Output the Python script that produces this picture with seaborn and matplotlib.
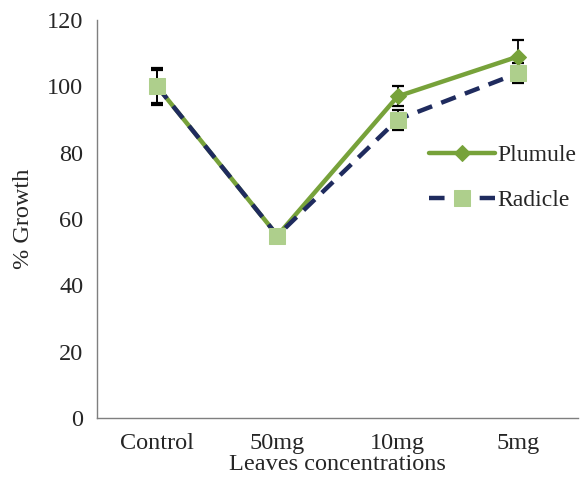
import matplotlib
matplotlib.use("Agg")
import matplotlib.pyplot as plt
import seaborn as sns
import pandas as pd
import numpy as np

categories = ["Control", "50mg", "10mg", "5mg"]
plumule = [100, 55, 97, 109]
plumule_err = [5.5, 1, 3, 5]
radicle = [100, 55, 90, 104]
radicle_err = [5, 1, 3, 3]

sns.set_style("white")
plt.rcParams['font.family'] = ['Liberation Serif', 'DejaVu Serif']

FS = 17.5
fig = plt.figure(figsize=(5.81, 4.91), dpi=100)
ax = fig.add_axes([0.167, 0.149, 0.828, 0.81])

x = np.arange(len(categories))
df = pd.DataFrame({"x": np.concatenate([x, x]),
                   "val": plumule + radicle,
                   "series": ["Plumule"] * 4 + ["Radicle"] * 4})

green = "#77A23A"
navy = "#1F2B5E"
light = "#AECF8C"

# error bars
ax.errorbar(x, radicle, yerr=radicle_err, fmt="none", ecolor="black",
            elinewidth=1.3, capsize=4.5, capthick=1.6, zorder=1)
ax.errorbar(x, plumule, yerr=plumule_err, fmt="none", ecolor="black",
            elinewidth=1.3, capsize=4.5, capthick=1.6, zorder=1)

sns.lineplot(data=df[df.series == "Plumule"], x="x", y="val", ax=ax,
             color=green, lw=3.2, marker="D", markersize=8,
             markerfacecolor=green, markeredgecolor=green, label="Plumule", zorder=3)
sns.lineplot(data=df[df.series == "Radicle"], x="x", y="val", ax=ax,
             color=navy, lw=3.2, marker="s", markersize=12,
             markerfacecolor=light, markeredgecolor=light, label="Radicle",
             dashes=(3.5, 2.2), zorder=4)

ax.set_xlim(-0.5, 3.5)
ax.set_ylim(0, 120)
ax.set_yticks(range(0, 121, 20))
ax.set_xticks(x)
ax.set_xticklabels(categories)
ax.set_xticks(np.arange(-0.5, 3.6, 1), minor=True)
ax.tick_params(axis="x", which="major", length=0, pad=11, labelsize=FS)
ax.tick_params(axis="x", which="minor", length=6, width=1, color="#7f7f7f", direction="out")
ax.tick_params(axis="y", length=6, width=1, color="#7f7f7f", direction="out", labelsize=FS, pad=4)
for s in ["top", "right"]:
    ax.spines[s].set_visible(False)
for s in ["left", "bottom"]:
    ax.spines[s].set_color("#7f7f7f")
    ax.spines[s].set_linewidth(1)

ax.set_xlabel("Leaves concentrations", fontsize=FS, labelpad=0)
ax.set_ylabel("% Growth", fontsize=FS, labelpad=9)

leg = ax.legend(loc="center left", bbox_to_anchor=(0.665, 0.604), frameon=False,
                borderpad=0, fontsize=17, handlelength=2.8, labelspacing=1.0,
                handletextpad=0.1)

fig.savefig("out.png", dpi=100)
